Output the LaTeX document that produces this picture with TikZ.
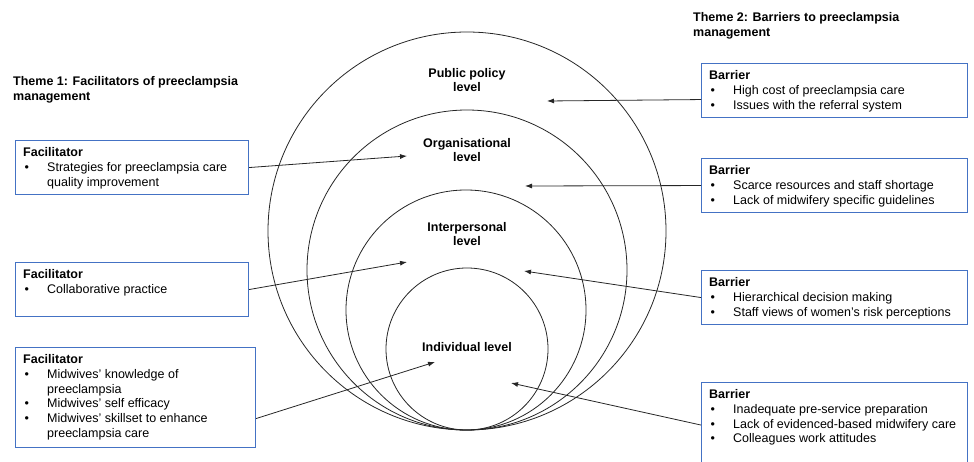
\documentclass[tikz,border=0pt]{standalone}
\usepackage{fontspec}
\setmainfont{Liberation Sans}
\usetikzlibrary{arrows.meta}
\definecolor{boxblue}{HTML}{4472C4}
\definecolor{ink}{HTML}{262626}
\newcommand{\bitem}[1]{\makebox[24pt][l]{\hspace{1.5pt}•}#1}
\newcommand{\bcont}[1]{\hspace*{24pt}#1}
\begin{document}
\begin{tikzpicture}[x=1pt,y=-1pt,font=\fontsize{12.5}{14.8}\selectfont,
  ring/.style={circle,draw=ink,line width=0.8pt,inner sep=0pt},
  box/.style={draw=boxblue,line width=1.1pt,anchor=north west,inner sep=0pt},
  txt/.style={anchor=north west,inner sep=0pt,align=left,text=black},
  lvl/.style={align=center,inner sep=0pt,font=\fontsize{12.5}{14}\selectfont\bfseries},
  arr/.style={draw=ink,line width=0.8pt,-{Latex[length=7pt,width=5pt]}}]
\useasboundingbox (0,0) rectangle (974,462);

% circles
\node[ring,minimum size=398pt] (pub) at (467,231) {};
\node[ring,minimum size=320pt] (org) at (467,270) {};
\node[ring,minimum size=240pt] (int) at (466,310) {};
\node[ring,minimum size=162pt] (ind) at (467,349) {};

% level labels
\node[lvl] (lpub) at (467,80) {Public policy\\level};
\node[lvl] (lorg) at (467,150) {Organisational\\level};
\node[lvl] (lint) at (467,234) {Interpersonal\\level};
\node[lvl] (lind) at (467,347) {Individual level};

% headings
\node[txt,font=\fontsize{12.5}{14.8}\selectfont\bfseries] (th1) at (13,75) {\strut Theme 1: Facilitators of preeclampsia\\management};
\node[txt,font=\fontsize{12.5}{14.8}\selectfont\bfseries] (th2) at (693,11) {\strut Theme 2: Barriers to preeclampsia\\management};

% facilitator boxes
\node[box,minimum width=233pt,minimum height=54pt] (f1) at (15,140) {};
\node[txt] (f1t) at ([shift={(8pt,-6pt)}]f1.north west) {\strut\textbf{Facilitator}\\\bitem{Strategies for preeclampsia care}\\\bcont{quality improvement}};
\node[box,minimum width=233pt,minimum height=54pt] (f2) at (15,262) {};
\node[txt] (f2t) at ([shift={(8pt,-6pt)}]f2.north west) {\strut\textbf{Facilitator}\\\bitem{Collaborative practice}};
\node[box,minimum width=240pt,minimum height=100pt] (f3) at (15,347) {};
\node[txt] (f3t) at ([shift={(8pt,-6pt)}]f3.north west) {\strut\textbf{Facilitator}\\\bitem{Midwives’ knowledge of}\\\bcont{preeclampsia}\\\bitem{Midwives’ self efficacy}\\\bitem{Midwives’ skillset to enhance}\\\bcont{preeclampsia care}};

% barrier boxes
\node[box,minimum width=266pt,minimum height=54pt] (b1) at (701,63) {};
\node[txt] (b1t) at ([shift={(8pt,-6pt)}]b1.north west) {\strut\textbf{Barrier}\\\bitem{High cost of preeclampsia care}\\\bitem{Issues with the referral system}};
\node[box,minimum width=266pt,minimum height=54pt] (b2) at (701,158) {};
\node[txt] (b2t) at ([shift={(8pt,-6pt)}]b2.north west) {\strut\textbf{Barrier}\\\bitem{Scarce resources and staff shortage}\\\bitem{Lack of midwifery specific guidelines}};
\node[box,minimum width=266pt,minimum height=54pt] (b3) at (701,270) {};
\node[txt] (b3t) at ([shift={(8pt,-6pt)}]b3.north west) {\strut\textbf{Barrier}\\\bitem{Hierarchical decision making}\\\bitem{Staff views of women’s risk perceptions}};
\node[box,minimum width=266pt,minimum height=80pt] (b4) at (701,382) {};
\node[txt] (b4t) at ([shift={(8pt,-6pt)}]b4.north west) {\strut\textbf{Barrier}\\\bitem{Inadequate pre-service preparation}\\\bitem{Lack of evidenced-based midwifery care}\\\bitem{Colleagues work attitudes}};

% arrow targets
\coordinate (tf1) at (407,156);
\coordinate (tf2) at (407,262);
\coordinate (tf3) at (435,362);
\coordinate (tb1) at (547,101);
\coordinate (tb2) at (525,186);
\coordinate (tb3) at (524,271);
\coordinate (tb4) at (511,383);

\draw[arr] (f1.east) -- (tf1);
\draw[arr] (f2.east) -- (tf2);
\draw[arr] ([yshift=-21pt]f3.east) -- (tf3);
\draw[arr] ([yshift=-9pt]b1.west) -- (tb1);
\draw[arr] (b2.west) -- (tb2);
\draw[arr] (b3.west) -- (tb3);
\draw[arr] ([yshift=-2.5pt]b4.west) -- (tb4);
\end{tikzpicture}
\end{document}
